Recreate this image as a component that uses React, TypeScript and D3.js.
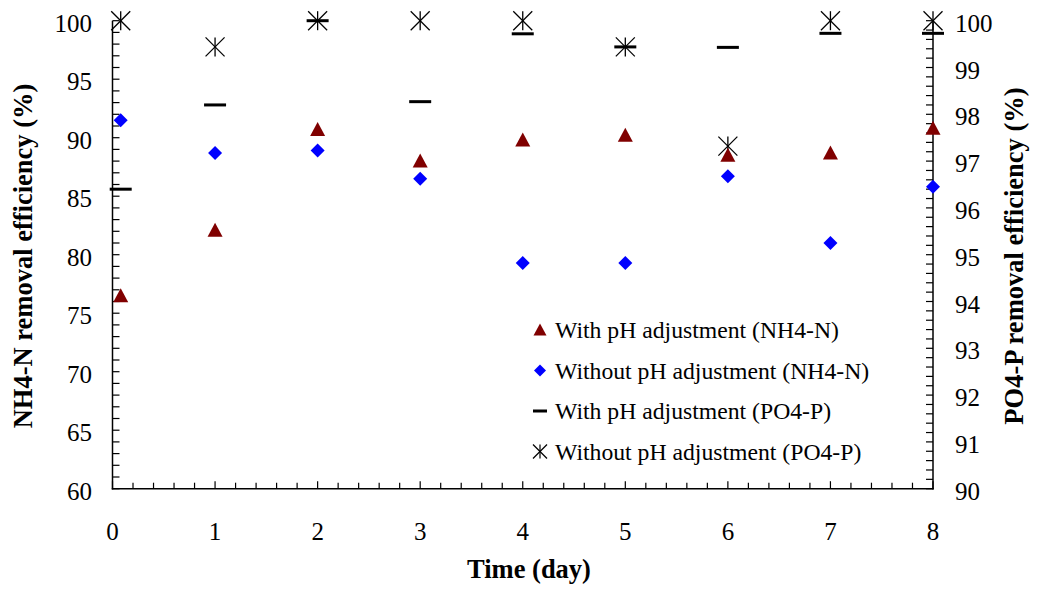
import React from "react";
import * as d3 from "d3";

const days = [0.08, 1, 2, 3, 4, 5, 6, 7, 8];
const withPhNH4 = [76.5, 82.1, 90.7, 88.0, 89.8, 90.2, 88.5, 88.7, 90.8];
const withoutPhNH4 = [91.5, 88.7, 88.9, 86.5, 79.3, 79.3, 86.7, 81.0, 85.8];
const withPhPO4 = [96.4, 98.2, 100, 98.27, 99.72, 99.44, 99.43, 99.73, 99.73];
const withoutPhPO4 = [100, 99.44, 100, 100, 100, 99.44, 97.32, 100, 100];

const xTicks = [0, 1, 2, 3, 4, 5, 6, 7, 8];
const leftTicks = [60, 65, 70, 75, 80, 85, 90, 95, 100];
const rightTicks = [90, 91, 92, 93, 94, 95, 96, 97, 98, 99, 100];

const legendLabels = [
  "With pH adjustment (NH4-N)",
  "Without pH adjustment (NH4-N)",
  "With pH adjustment (PO4-P)",
  "Without pH adjustment (PO4-P)",
];

const FONT = "'Liberation Serif', 'Times New Roman', serif";

const W = 1044;
const H = 590;
const L = 112.5;
const R = 933;
const T = 20.7;
const B = 488.7;

const x = d3.scaleLinear().domain([0, 8]).range([L, R]);
const yL = d3.scaleLinear().domain([60, 100]).range([B, T]);
const yR = d3.scaleLinear().domain([90, 100]).range([B, T]);

function Triangle({ cx, cy }: { cx: number; cy: number }) {
  return <path d="M0,-7.5L7.5,6.5L-7.5,6.5Z" transform={`translate(${cx},${cy})`} fill="#800000" />;
}
function Diamond({ cx, cy }: { cx: number; cy: number }) {
  return <path d="M0,-7L7,0L0,7L-7,0Z" transform={`translate(${cx},${cy})`} fill="#0000FF" />;
}
function Dash({ cx, cy }: { cx: number; cy: number }) {
  return <line x1={cx - 11} x2={cx + 11} y1={cy} y2={cy} stroke="#000" strokeWidth={3} />;
}
function Star({ cx, cy }: { cx: number; cy: number }) {
  const s = 9.5;
  return (
    <g stroke="#000" strokeWidth={1.3}>
      <line x1={cx - s} y1={cy - s} x2={cx + s} y2={cy + s} />
      <line x1={cx - s} y1={cy + s} x2={cx + s} y2={cy - s} />
      <line x1={cx} y1={cy - s} x2={cx} y2={cy + s} />
    </g>
  );
}

export default function App() {
  const xMinor = d3.range(0, 8.0001, 0.2);
  const lMinor = d3.range(60, 100.0001, 1);
  const rMinor = d3.range(90, 100.0001, 0.2);
  const legendYs = [330, 370.5, 411, 451.5];
  return (
    <svg width={W} height={H} style={{ position: "absolute", left: 0, top: 0, background: "#fff" }} fontFamily={FONT}>
      <rect x={0} y={0} width={W} height={H} fill="#fff" />
      {/* axes */}
      <g stroke="#000" strokeWidth={1.5}>
        <line x1={L} y1={T} x2={L} y2={B + 0.75} />
        <line x1={L - 0.75} y1={B} x2={R + 0.75} y2={B} />
        <line x1={R} y1={T} x2={R} y2={B + 0.75} />
      </g>
      <g stroke="#000" strokeWidth={1.2}>
        {xMinor.map((v, i) => {
          const major = Math.abs(v - Math.round(v)) < 1e-6;
          return <line key={"xm" + i} x1={x(v)} x2={x(v)} y1={B} y2={B - (major ? 7.5 : 6)} />;
        })}
        {lMinor.map((v, i) => (
          <line key={"lm" + i} x1={L} x2={L + 7} y1={yL(v)} y2={yL(v)} />
        ))}
        {rMinor.map((v, i) => (
          <line key={"rm" + i} x1={R} x2={R - 7} y1={yR(v)} y2={yR(v)} />
        ))}
      </g>
      {/* tick labels */}
      <g fontSize={25} fill="#000">
        {xTicks.map((v) => (
          <text key={"xt" + v} x={x(v)} y={540} textAnchor="middle">{v}</text>
        ))}
        {leftTicks.map((v) => (
          <text key={"lt" + v} x={92} y={yL(v) + 11} textAnchor="end">{v}</text>
        ))}
        {rightTicks.map((v) => (
          <text key={"rt" + v} x={955} y={yR(v) + 11} textAnchor="start">{v}</text>
        ))}
      </g>
      {/* titles */}
      <g fontSize={26.5} fontWeight="bold" fill="#000">
        <text x={529} y={578} textAnchor="middle">Time (day)</text>
        <text transform={`translate(32,256) rotate(-90)`} textAnchor="middle">NH4-N removal efficiency (%)</text>
        <text transform={`translate(1023,256) rotate(-90)`} textAnchor="middle">PO4-P removal efficiency (%)</text>
      </g>
      {/* data */}
      <g>
        {days.map((d, i) => (
          <Dash key={"da" + i} cx={x(d)} cy={yR(withPhPO4[i])} />
        ))}
        {days.map((d, i) => (
          <Star key={"st" + i} cx={x(d)} cy={yR(withoutPhPO4[i])} />
        ))}
        {days.map((d, i) => (
          <Triangle key={"tr" + i} cx={x(d)} cy={yL(withPhNH4[i])} />
        ))}
        {days.map((d, i) => (
          <Diamond key={"di" + i} cx={x(d)} cy={yL(withoutPhNH4[i])} />
        ))}
      </g>
      {/* legend */}
      <g fontSize={23.7} fill="#000">
        <path d="M0,-6.5L6.5,5.5L-6.5,5.5Z" transform={`translate(540,${legendYs[0]})`} fill="#800000" />
        <path d="M0,-6L6,0L0,6L-6,0Z" transform={`translate(540,${legendYs[1]})`} fill="#0000FF" />
        <line x1={533} x2={547} y1={legendYs[2]} y2={legendYs[2]} stroke="#000" strokeWidth={3} />
        <g stroke="#000" strokeWidth={1.2}>
          <line x1={533} y1={legendYs[3] - 7} x2={547} y2={legendYs[3] + 7} />
          <line x1={533} y1={legendYs[3] + 7} x2={547} y2={legendYs[3] - 7} />
          <line x1={540} y1={legendYs[3] - 7} x2={540} y2={legendYs[3] + 7} />
        </g>
        {legendLabels.map((t, i) => (
          <text key={"lg" + i} x={555} y={legendYs[i] + 8}>{t}</text>
        ))}
      </g>
    </svg>
  );
}
